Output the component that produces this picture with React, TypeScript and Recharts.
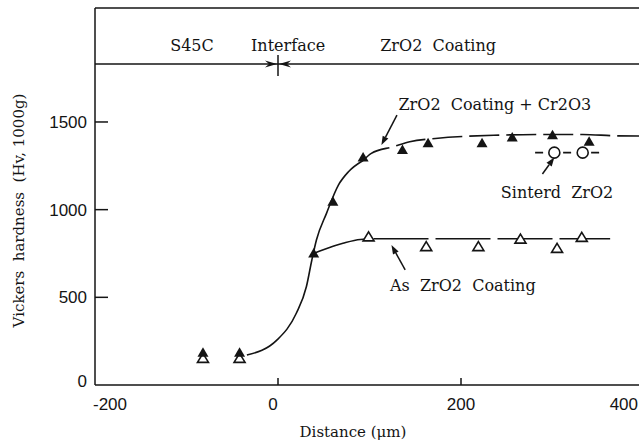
import {
  ComposedChart,
  Line,
  ReferenceDot,
  ReferenceLine,
  Scatter,
  XAxis,
  YAxis,
} from "recharts";

const ink = "#141414";
const serif = "'DejaVu Serif', 'Liberation Serif', serif";
const sans = "'Liberation Sans', Arial, sans-serif";
const nb = "\u00a0";

const xTicks = [-200, 0, 200, 400];
const yTicks = [0, 500, 1000, 1500];

// measured hardness, x = distance from interface (um), y = Hv
const cr2o3X = [-82, -42, 39, 60, 93, 136, 164, 223, 256, 300, 340];
const cr2o3Y = [184, 184, 750, 1045, 1298, 1340, 1378, 1378, 1412, 1425, 1387];
const asCoatX = [-82, -42, 99, 162, 219, 265, 305, 332];
const asCoatY = [152, 152, 845, 789, 789, 832, 779, 842];
const sinteredX = [302, 333];
const sinteredY = [1325, 1325];

// hand drawn trend curves
const riseX = [-34, -1, 20, 31, 37, 42, 53, 66, 77, 93];
const riseY = [171, 257, 409, 560, 713, 827, 979, 1140, 1216, 1280];
const plateauX = [93, 102, 126, 144, 172, 243, 290, 333, 370, 395];
const plateauY = [1280, 1321, 1359, 1387, 1406, 1425, 1429, 1429, 1421, 1420];
const asLineX = [39, 48, 71, 90, 110, 200, 300, 363];
const asLineY = [750, 768, 808, 830, 834, 834, 834, 834];
const sinterLineX = [281, 352];
const sinterLineY = [1325, 1325];

const toPoints = (xs: number[], ys: number[]) =>
  xs.map((x, i) => ({ x, y: ys[i] }));

function FilledTriangle(props: any) {
  const { cx, cy } = props;
  if (cx == null || cy == null) return null;
  return (
    <path
      d={`M${cx},${cy - 5.5} L${cx + 5.5},${cy + 4} L${cx - 5.5},${cy + 4} Z`}
      fill={ink}
    />
  );
}

function OpenTriangle(props: any) {
  const { cx, cy } = props;
  if (cx == null || cy == null) return null;
  return (
    <path
      d={`M${cx},${cy - 5} L${cx + 5.5},${cy + 4} L${cx - 5.5},${cy + 4} Z`}
      fill="#fff"
      stroke={ink}
      strokeWidth={1.6}
    />
  );
}

function OpenCircle(props: any) {
  const { cx, cy } = props;
  if (cx == null || cy == null) return null;
  return <circle cx={cx} cy={cy} r={5.5} fill="#fff" stroke={ink} strokeWidth={1.6} />;
}

function arrowShape(props: any) {
  const { x1, y1, x2, y2 } = props;
  const a = Math.atan2(y2 - y1, x2 - x1);
  const bx = x2 - 9 * Math.cos(a);
  const by = y2 - 9 * Math.sin(a);
  const px = -Math.sin(a) * 3.2;
  const py = Math.cos(a) * 3.2;
  return (
    <g>
      <line x1={x1} y1={y1} x2={bx} y2={by} stroke={ink} strokeWidth={1.5} />
      <path
        d={`M${x2},${y2} L${bx + px},${by + py} L${bx - px},${by - py} Z`}
        fill={ink}
      />
    </g>
  );
}

function interfaceMark(props: any) {
  const { cx, cy } = props;
  return (
    <g fill={ink}>
      <line x1={cx} y1={cy - 9} x2={cx} y2={cy + 12} stroke={ink} strokeWidth={1.5} />
      <path d={`M${cx - 1},${cy} L${cx - 13},${cy - 3.5} L${cx - 9},${cy} L${cx - 13},${cy + 3.5} Z`} />
      <path d={`M${cx + 1},${cy} L${cx + 13},${cy - 3.5} L${cx + 9},${cy} L${cx + 13},${cy + 3.5} Z`} />
    </g>
  );
}

const textShape = (text: string, size = 16) => (props: any) => (
  <text
    x={props.cx}
    y={props.cy}
    textAnchor="middle"
    fontFamily={serif}
    fontSize={size}
    fill={ink}
  >
    {text}
  </text>
);

function YTick(props: any) {
  const { x, y, payload } = props;
  const v = payload.value;
  return (
    <g>
      {v !== 0 && <line x1={x} y1={y} x2={x + 13} y2={y} stroke={ink} strokeWidth={1.5} />}
      <text
        x={x - 8}
        y={v === 0 ? y - 4 : y}
        dy="0.35em"
        textAnchor="end"
        fontFamily={sans}
        fontSize={17}
        fill={ink}
      >
        {v}
      </text>
    </g>
  );
}

function XTick(props: any) {
  const { x, y, payload } = props;
  const v = payload.value;
  const anchor = v === -200 ? "start" : v === 400 ? "end" : "middle";
  const tx = v === -200 ? x - 2 : v === 400 ? x - 6 : v === 0 ? x - 5 : x;
  return (
    <g>
      {v !== -200 && v !== 400 && (
        <line x1={x} y1={y} x2={x} y2={y - 7} stroke={ink} strokeWidth={1.5} />
      )}
      <text
        x={tx}
        y={y + 19}
        dy="0.35em"
        textAnchor={anchor}
        fontFamily={sans}
        fontSize={17}
        fill={ink}
      >
        {v}
      </text>
    </g>
  );
}

function yTitle(props: any) {
  const vb = props.viewBox;
  const x = vb.x + 19;
  const y = vb.y + vb.height / 2 + 14;
  return (
    <text
      x={x}
      y={y}
      transform={`rotate(-90 ${x} ${y})`}
      textAnchor="middle"
      dominantBaseline="central"
      fontFamily={serif}
      fontSize={15}
      fill={ink}
    >
      {`Vickers${nb}${nb}hardness${nb}${nb}(Hv,${nb}1000g)`}
    </text>
  );
}

function xTitle(props: any) {
  const vb = props.viewBox;
  return (
    <text
      x={vb.x + 258}
      y={vb.y + 47}
      textAnchor="middle"
      dominantBaseline="central"
      fontFamily={serif}
      fontSize={15}
      fill={ink}
    >
      Distance (μm)
    </text>
  );
}

export default function App() {
  return (
    <div
      style={{
        position: "absolute",
        left: 0,
        top: 0,
        width: 639,
        height: 445,
        overflow: "hidden",
        background: "#fff",
      }}
    >
      <ComposedChart
        width={700}
        height={445}
        margin={{ top: 8, right: 56, bottom: 0, left: 0 }}
      >
        <XAxis
          type="number"
          dataKey="x"
          domain={[-200, 400]}
          ticks={xTicks}
          allowDataOverflow
          height={60}
          tickSize={0}
          tickMargin={0}
          tick={XTick}
          axisLine={{ stroke: ink, strokeWidth: 1.5 }}
          label={xTitle}
        />
        <YAxis
          type="number"
          dataKey="y"
          domain={[0, 2150]}
          ticks={yTicks}
          allowDataOverflow
          width={95}
          tickSize={0}
          tickMargin={0}
          tick={YTick}
          axisLine={{ stroke: ink, strokeWidth: 1.5 }}
          label={yTitle}
        />

        {/* frame top and header band */}
        <ReferenceLine y={2150} stroke={ink} strokeWidth={1.5} />
        <ReferenceLine y={1830} stroke={ink} strokeWidth={1.5} />
        <ReferenceDot x={0} y={1830} shape={interfaceMark} />
        <ReferenceDot x={-94} y={1905} shape={textShape("S45C")} />
        <ReferenceDot x={11} y={1905} shape={textShape("Interface")} />
        <ReferenceDot x={175} y={1905} shape={textShape(`ZrO2${nb}${nb}Coating`)} />

        <Line
          data={toPoints(riseX, riseY)}
          dataKey="y"
          type="monotone"
          dot={false}
          stroke={ink}
          strokeWidth={1.6}
          isAnimationActive={false}
        />
        <Line
          data={toPoints(plateauX, plateauY)}
          dataKey="y"
          type="monotone"
          dot={false}
          stroke={ink}
          strokeWidth={1.6}
          strokeDasharray="30 7"
          isAnimationActive={false}
        />
        <Line
          data={toPoints(asLineX, asLineY)}
          dataKey="y"
          type="monotone"
          dot={false}
          stroke={ink}
          strokeWidth={1.6}
          strokeDasharray="55 7"
          isAnimationActive={false}
        />
        <Line
          data={toPoints(sinterLineX, sinterLineY)}
          dataKey="y"
          type="linear"
          dot={false}
          stroke={ink}
          strokeWidth={1.6}
          strokeDasharray="8 6"
          isAnimationActive={false}
        />

        <Scatter
          data={toPoints(asCoatX, asCoatY)}
          dataKey="y"
          shape={OpenTriangle}
          isAnimationActive={false}
        />
        <Scatter
          data={toPoints(cr2o3X, cr2o3Y)}
          dataKey="y"
          shape={FilledTriangle}
          isAnimationActive={false}
        />
        <Scatter
          data={toPoints(sinteredX, sinteredY)}
          dataKey="y"
          shape={OpenCircle}
          isAnimationActive={false}
        />

        {/* annotations */}
        <ReferenceDot x={237} y={1568} shape={textShape(`ZrO2${nb}${nb}Coating + Cr2O3`)} />
        <ReferenceLine segment={[{ x: 130, y: 1539 }, { x: 113, y: 1368 }]} shape={arrowShape} />
        <ReferenceDot x={305} y={1066} shape={textShape(`Sinterd${nb}${nb}ZrO2`)} />
        <ReferenceLine segment={[{ x: 289, y: 1203 }, { x: 302, y: 1298 }]} shape={arrowShape} />
        <ReferenceDot x={202} y={536} shape={textShape(`As${nb}${nb}ZrO2${nb}${nb}Coating`)} />
        <ReferenceLine segment={[{ x: 139, y: 656 }, { x: 124, y: 798 }]} shape={arrowShape} />
      </ComposedChart>
    </div>
  );
}
